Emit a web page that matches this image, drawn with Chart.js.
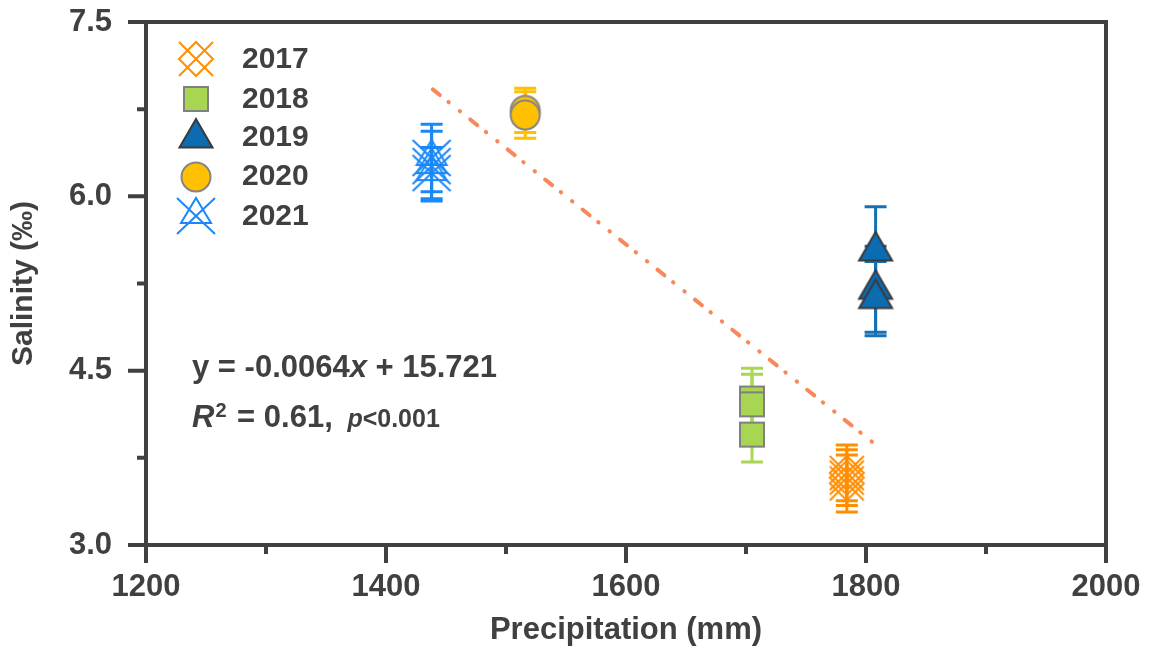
<!DOCTYPE html>
<html><head><meta charset="utf-8">
<script src="https://cdn.jsdelivr.net/npm/chart.js@4.4.1/dist/chart.umd.min.js"></script>
<style>html,body{margin:0;padding:0;background:#fff;overflow:hidden}#wrap{width:1153px;height:653px;position:relative}</style>
</head><body><div id="wrap"><canvas id="c" width="1153" height="653"></canvas></div>
<script>
// ---------- data ----------
const years = ['2017', '2018', '2019', '2020', '2021'];
const precip2017 = [1784, 1784, 1784];
const salinity2017 = [3.62, 3.58, 3.53];
const err2017 = [0.24, 0.24, 0.245];
const precip2018 = [1705, 1705, 1705];
const salinity2018 = [4.26, 4.21, 3.95];
const err2018 = [0.26, 0.26, 0.235];
const precip2019 = [1808, 1808, 1808];
const salinity2019 = [5.53, 5.20, 5.12];
const err2019 = [0.38, 0.37, 0.32];
const precip2020 = [1516, 1516];
const salinity2020 = [6.74, 6.70];
const err2020 = [0.19, 0.20];
const precip2021 = [1438, 1438, 1438];
const salinity2021 = [6.33, 6.26, 6.20];
const err2021 = [0.29, 0.30, 0.22];
const trendPrecip = [1439, 1806];
const trendSalinity = [6.92, 3.88];
const xTickLabels = [1200, 1400, 1600, 1800, 2000];
const yTickLabels = ['3.0', '4.5', '6.0', '7.5'];
const equationText = ['y = -0.0064', 'x', ' + 15.721'];
const r2Text = ['R', '2', ' = 0.61, ', 'p', '<0.001'];

// ---------- styles ----------
const AX = '#404040';
const FONT = "'Liberation Sans', Arial, sans-serif";
const C17 = '#FF8E00', C18 = '#A8D653', C19 = '#0B6CB2', C20 = '#FFC000', C21 = '#1A88F8';
const TREND = '#F8885C';

function mk(w, h, fn) {
  const c = document.createElement('canvas'); c.width = w; c.height = h;
  const g = c.getContext('2d'); g.translate(w / 2, h / 2); g.lineJoin = 'miter'; fn(g); return c;
}
const m2017 = mk(40, 40, g => {
  const s = 17; g.strokeStyle = C17; g.lineWidth = 2;
  g.beginPath(); g.moveTo(0, -s); g.lineTo(s, 0); g.lineTo(0, s); g.lineTo(-s, 0); g.closePath();
  g.moveTo(-s, -s); g.lineTo(s, s); g.moveTo(s, -s); g.lineTo(-s, s); g.stroke();
});
const m2018 = mk(30, 30, g => {
  g.fillStyle = C18; g.strokeStyle = '#808080'; g.lineWidth = 2;
  g.beginPath(); g.rect(-12, -12, 24, 24); g.fill(); g.stroke();
});
const m2019 = mk(44, 44, g => {
  g.fillStyle = C19; g.strokeStyle = '#3A3A3A'; g.lineWidth = 2;
  g.beginPath(); g.moveTo(0, -19); g.lineTo(16.5, 9.5); g.lineTo(-16.5, 9.5); g.closePath(); g.fill(); g.stroke();
});
const m2020 = mk(34, 34, g => {
  g.fillStyle = C20; g.strokeStyle = '#858585'; g.lineWidth = 2;
  g.beginPath(); g.arc(0, 0, 14.5, 0, Math.PI * 2); g.fill(); g.stroke();
});
const m2021 = mk(44, 44, g => {
  g.strokeStyle = C21; g.lineWidth = 2;
  g.beginPath(); g.moveTo(0, -18); g.lineTo(15, 7); g.lineTo(-15, 7); g.closePath();
  g.moveTo(-19, -18); g.lineTo(19, 18); g.moveTo(19, -18); g.lineTo(-19, 18); g.stroke();
});

function pts(xs, ys) { return xs.map((x, i) => ({ x: x, y: ys[i] })); }
function ds(label, xs, ys, errs, marker, color) {
  return { type: 'scatter', label: label, data: pts(xs, ys), errors: errs, errColor: color,
    pointStyle: marker, pointRadius: 14, pointHoverRadius: 14 };
}

const datasets = [
  { type: 'line', label: 'trend', data: pts(trendPrecip, trendSalinity), borderColor: TREND, borderWidth: 4,
    borderDash: [9, 11, 0.5, 14, 0.5, 13], borderCapStyle: 'round', pointRadius: 0, fill: false, tension: 0 },
  ds(years[4], precip2021, salinity2021, err2021, m2021, C21),
  ds(years[3], precip2020, salinity2020, err2020, m2020, C20),
  ds(years[2], precip2019, salinity2019, err2019, m2019, '#1570B5'),
  ds(years[1], precip2018, salinity2018, err2018, m2018, '#A9D751'),
  ds(years[0], precip2017, salinity2017, err2017, m2017, C17),
];

const errorBars = {
  id: 'errorBars',
  beforeDatasetsDraw(chart) {
    const ctx = chart.ctx, xs = chart.scales.x, ys = chart.scales.y;
    ctx.save(); ctx.lineWidth = 3; ctx.lineCap = 'butt';
    chart.data.datasets.forEach(d => {
      if (!d.errors) return;
      ctx.strokeStyle = d.errColor;
      d.data.forEach((p, i) => {
        const x = xs.getPixelForValue(p.x);
        const t = ys.getPixelForValue(p.y + d.errors[i]);
        const b = ys.getPixelForValue(p.y - d.errors[i]);
        ctx.beginPath();
        ctx.moveTo(x, t); ctx.lineTo(x, b);
        ctx.moveTo(x - 11, t); ctx.lineTo(x + 11, t);
        ctx.moveTo(x - 11, b); ctx.lineTo(x + 11, b);
        ctx.stroke();
      });
    });
    ctx.restore();
  }
};

function isMajorY(v) { return yTickLabels.indexOf(v.toFixed(1)) >= 0; }
function isMajorX(v) { return xTickLabels.indexOf(Math.round(v)) >= 0; }
function noPad(s) { s.paddingTop = 0; s.paddingBottom = 0; s.paddingLeft = 0; s.paddingRight = 0; }

const frame = {
  id: 'frame',
  afterDraw(chart) {
    const ctx = chart.ctx, a = chart.chartArea, xs = chart.scales.x, ys = chart.scales.y;
    ctx.save();
    ctx.strokeStyle = AX; ctx.lineWidth = 4; ctx.lineCap = 'butt';
    ctx.strokeRect(a.left, a.top, a.right - a.left, a.bottom - a.top);
    ctx.beginPath();
    ys.ticks.forEach(t => {
      const y = ys.getPixelForValue(t.value);
      const len = isMajorY(t.value) ? 18 : 9;
      ctx.moveTo(a.left, y); ctx.lineTo(a.left - len, y);
    });
    xs.ticks.forEach(t => {
      const x = xs.getPixelForValue(t.value);
      const len = isMajorX(t.value) ? 18 : 9;
      ctx.moveTo(x, a.bottom); ctx.lineTo(x, a.bottom + len);
    });
    ctx.stroke();

    // legend
    const rows = [[m2017, 59], [m2018, 99], [m2019, 138], [m2020, 177], [m2021, 216]];
    const textY = [59, 99, 137, 176, 216];
    ctx.fillStyle = AX; ctx.font = 'bold 30px ' + FONT; ctx.textBaseline = 'middle'; ctx.textAlign = 'left';
    rows.forEach((r, i) => {
      ctx.drawImage(r[0], 196 - r[0].width / 2, r[1] - r[0].height / 2);
      ctx.fillText(years[i], 242, textY[i] + 1);
    });

    // annotation
    ctx.textBaseline = 'alphabetic';
    let x = 192;
    ctx.font = 'bold 31px ' + FONT; ctx.fillText(equationText[0], x, 377); x += ctx.measureText(equationText[0]).width;
    ctx.font = 'italic bold 31px ' + FONT; ctx.fillText(equationText[1], x, 377); x += ctx.measureText(equationText[1]).width;
    ctx.font = 'bold 31px ' + FONT; ctx.fillText(equationText[2], x, 377);
    x = 192;
    ctx.font = 'italic bold 31px ' + FONT; ctx.fillText(r2Text[0], x, 427); x += ctx.measureText(r2Text[0]).width + 1;
    ctx.font = 'bold 20px ' + FONT; ctx.fillText(r2Text[1], x, 417); x += ctx.measureText(r2Text[1]).width + 2;
    ctx.font = 'bold 31px ' + FONT; ctx.fillText(r2Text[2], x, 427); x += ctx.measureText(r2Text[2]).width + 6;
    ctx.font = 'italic bold 25px ' + FONT; ctx.fillText(r2Text[3], x, 427); x += ctx.measureText(r2Text[3]).width;
    ctx.font = 'bold 25px ' + FONT; ctx.fillText(r2Text[4], x, 427);
    ctx.restore();
  }
};

new Chart(document.getElementById('c'), {
  data: { datasets: datasets },
  options: {
    responsive: false, animation: false, devicePixelRatio: 1,
    layout: { autoPadding: false, padding: { left: 0, right: 47, top: 22, bottom: 0 } },
    plugins: { legend: { display: false }, tooltip: { enabled: false } },
    scales: {
      x: {
        type: 'linear', position: 'bottom', min: 1200, max: 2000,
        afterFit(s) { s.height = 108; noPad(s); },
        grid: { display: false, drawTicks: false }, border: { display: false },
        ticks: { stepSize: 100, autoSkip: false, maxRotation: 0, padding: 24, color: AX,
          font: { family: FONT, size: 31, weight: 'bold' },
          callback: v => isMajorX(v) ? String(Math.round(v)) : '' },
        title: { display: true, text: 'Precipitation (mm)', color: AX, padding: { top: 0, bottom: 4 },
          font: { family: FONT, size: 31, weight: 'bold' } }
      },
      y: {
        type: 'linear', position: 'left', min: 3, max: 7.5,
        afterFit(s) { s.width = 146; noPad(s); },
        grid: { display: false, drawTicks: false }, border: { display: false },
        ticks: { stepSize: 0.75, autoSkip: false, padding: 34, color: AX,
          font: { family: FONT, size: 31, weight: 'bold' },
          callback: v => isMajorY(v) ? v.toFixed(1) : '' },
        title: { display: true, text: 'Salinity (‰)', color: AX, padding: { top: 6, bottom: 0 },
          font: { family: FONT, size: 30, weight: 'bold' } }
      }
    }
  },
  plugins: [errorBars, frame]
});
</script></body></html>
